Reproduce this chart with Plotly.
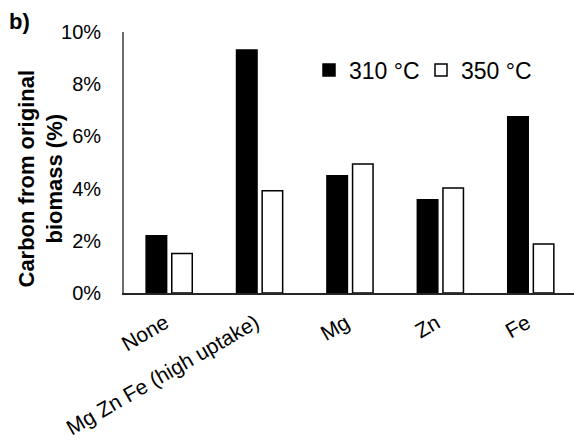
import plotly.graph_objects as go

categories = ["None", "Mg Zn Fe (high uptake)", "Mg", "Zn", "Fe"]
series_names = ["310 °C", "350 °C"]
values_310 = [0.0219, 0.0931, 0.0449, 0.0357, 0.0675]
values_350 = [0.0151, 0.0392, 0.0494, 0.0402, 0.0188]
y_ticks = [0, 0.02, 0.04, 0.06, 0.08, 0.10]

FONT = "Arial, Liberation Sans, sans-serif"

fig = go.Figure()
fig.add_trace(go.Bar(x=categories, y=values_310, name=series_names[0],
                     marker=dict(color="black", line=dict(color="black", width=1.5))))
fig.add_trace(go.Bar(x=categories, y=values_350, name=series_names[1],
                     marker=dict(color="white", line=dict(color="black", width=1.5))))

L, R, T, B = 124, 0, 32, 153
W, H = 574, 446
pw = W - L - R
ph = H - T - B

def px(x):
    return (x - L) / pw

def py(y):
    return (H - B - y) / ph

fig.update_layout(
    width=W, height=H,
    margin=dict(l=L, r=R, t=T, b=B, pad=0),
    paper_bgcolor="white", plot_bgcolor="white",
    font=dict(family=FONT, color="black", size=20),
    barmode="group", bargap=0.433, bargroupgap=0.2,
    showlegend=True,
    legend=dict(orientation="h", x=px(309), xanchor="left", y=py(70), yanchor="middle",
                font=dict(size=23, family=FONT, color="black"),
                bgcolor="rgba(0,0,0,0)", entrywidth=67, entrywidthmode="pixels",
                traceorder="normal"),
    xaxis=dict(range=[-0.5, 4.478], showline=True, linecolor="#262626", linewidth=1.5,
               ticks="", tickangle=-30, showgrid=False, zeroline=False, automargin=False,
               tickfont=dict(size=21, family=FONT, color="black"), ticklabelstandoff=8,
               ticklabelshift=-4),
    yaxis=dict(range=[0, 0.10], tickvals=y_ticks, tickformat=".0%", showline=True,
               linecolor="#6d6d6d", linewidth=1.7, ticks="", showgrid=False, zeroline=False,
               automargin=False,
               tickfont=dict(size=20, family=FONT, color="black"), ticklabelstandoff=17),
    annotations=[
        dict(text="<b>Carbon from original<br>biomass (%)</b>", textangle=-90,
             x=px(40), y=py(178.5), xref="paper", yref="paper",
             xanchor="center", yanchor="middle", showarrow=False,
             font=dict(size=22, family=FONT, color="black")),
        dict(text="<b>b)</b>", x=px(7), y=py(22), xref="paper", yref="paper",
             xanchor="left", yanchor="middle", showarrow=False,
             font=dict(size=22, family=FONT, color="black")),
    ],
)

fig.write_html("out.html", config={"displayModeBar": False},
               post_script="document.body.style.margin='0';")
